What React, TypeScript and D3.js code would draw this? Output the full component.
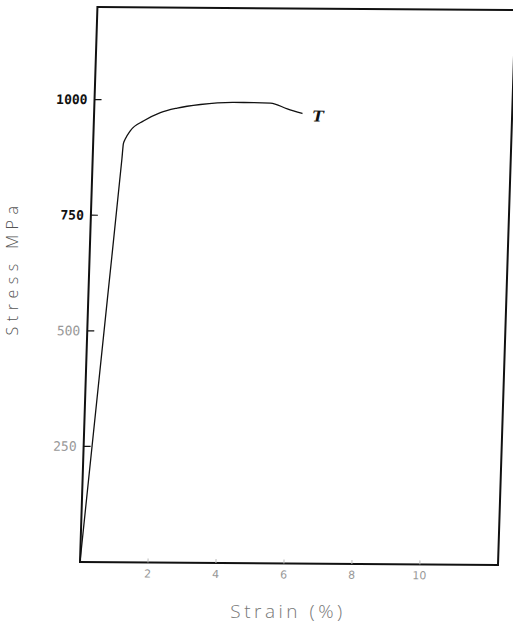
import * as d3 from "d3";

// stress-strain curve "T"
const strain = [0, 0.56, 0.86, 0.89, 0.94, 1.08, 1.47, 1.95, 2.44, 3.12, 4.1, 4.69, 5.18, 5.68, 6.13];
const stress = [0, 566, 872, 905, 915, 933, 955, 973, 983, 991, 996, 996, 995, 983, 973];
const curveLabel = "T";

const xTicks = [2, 4, 6, 8, 10];
const yTicks = [250, 500, 750, 1000];
const xDomain = [0, 12.3];
const yDomain = [0, 1200];

const W = 513;
const H = 626;
const PLOT_W = 418;
const PLOT_H = 555;

const App = () => {
  const x = d3.scaleLinear().domain(xDomain).range([0, PLOT_W]);
  const y = d3.scaleLinear().domain(yDomain).range([0, -PLOT_H]);

  const points: [number, number][] = strain.map((s, i) => [s, stress[i]]);
  const line = d3
    .line<[number, number]>()
    .x((d) => x(d[0]))
    .y((d) => y(d[1]))
    .curve(d3.curveMonotoneX);

  const last = points[points.length - 1];

  // the scan is a bit tilted, so the plot frame gets a small rotate + skew
  return (
    <div style={{ position: "absolute", left: 0, top: 0 }}>
      <svg width={W} height={H} style={{ display: "block", background: "#fff" }}>
        <g transform="translate(80,562) rotate(0.4) skewX(-1.4)">
          <rect
            x={0}
            y={-PLOT_H}
            width={PLOT_W}
            height={PLOT_H}
            fill="none"
            stroke="#111"
            strokeWidth={2}
          />
          {yTicks.map((t) => (
            <g key={t} transform={`translate(0,${y(t)})`}>
              <line x1={0} x2={7} stroke="#111" strokeWidth={1.2} />
              <text
                x={-7}
                dy="0.35em"
                textAnchor="end"
                fontFamily="DejaVu Sans Mono"
                fontSize={13}
                fontWeight={t >= 750 ? "bold" : "normal"}
                fill={t >= 750 ? "#111" : "#999"}
              >
                {t}
              </text>
            </g>
          ))}
          {xTicks.map((t) => (
            <g key={t} transform={`translate(${x(t)},0)`}>
              <line y1={0} y2={-4} stroke="#bbb" strokeWidth={1} />
              <text
                y={15}
                textAnchor="middle"
                fontFamily="DejaVu Sans"
                fontSize={11}
                fill="#999"
              >
                {t}
              </text>
            </g>
          ))}
          <path d={line(points) ?? ""} fill="none" stroke="#111" strokeWidth={1.3} />
          <text
            x={x(last[0]) + 10}
            y={y(last[1]) + 8}
            fontFamily="DejaVu Serif"
            fontStyle="italic"
            fontWeight="bold"
            fontSize={15}
            fill="#111"
          >
            {curveLabel}
          </text>
        </g>
        <text
          transform="translate(18,268) rotate(-90)"
          textAnchor="middle"
          fontFamily="Open Sans"
          fontWeight={300}
          fontSize={16}
          letterSpacing={5.5}
          fill="#555"
        >
          Stress MPa
        </text>
        <text
          x={288}
          y={618}
          textAnchor="middle"
          fontFamily="Open Sans"
          fontWeight={300}
          fontSize={19}
          letterSpacing={3.5}
          fill="#777"
        >
          Strain (%)
        </text>
      </svg>
    </div>
  );
};

export default App;
